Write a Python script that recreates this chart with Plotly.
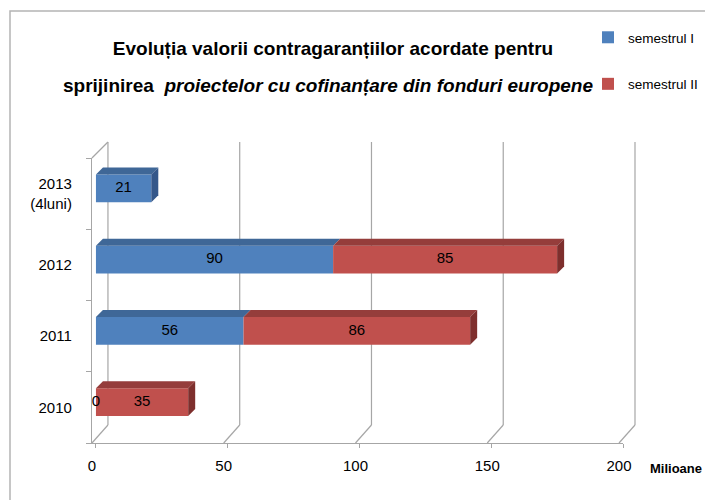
import plotly.graph_objects as go

# ---------------- data ----------------
categories = ["2010", "2011", "2012", "2013<br>(4luni)"]
sem1 = [0, 56, 90, 21]
sem2 = [35, 86, 85, None]
series_names = ["semestrul I", "semestrul II"]
x_ticks = [0, 50, 100, 150, 200]

# ---------------- style ----------------
FONT = "Liberation Sans, Arial, sans-serif"
W, H = 705, 500
ML, MR, MT, MB = 92, 82, 158, 57
XMIN, XMAX = -1.5, 200
YMIN, YMAX = -0.5, 3.5
PW, PH = W - ML - MR, H - MT - MB
PXU_X = PW / (XMAX - XMIN)
PXU_Y = PH / (YMAX - YMIN)
DEPTH = 7                      # px depth of bar 3D faces
DX, DY = DEPTH / PXU_X, DEPTH / PXU_Y
BAR_W = 0.39
BAR_OFF = 0.075
FRONT_SHIFT, BACK_SHIFT, BACK_UP = -4, 12, 18
GRID = "#a6a6a6"

front = {"sem1": "#4F81BD", "sem2": "#C0504D"}
topc = {"sem1": "#3F6797", "sem2": "#953D3B"}
sidec = {"sem1": "#34578A", "sem2": "#7E2F2D"}

ypos = [i + BAR_OFF for i in range(len(categories))]

fig = go.Figure()

bases1 = [0] * len(sem1)
bases2 = [a for a in sem1]
groups = [("sem1", sem1, bases1, series_names[0]), ("sem2", sem2, bases2, series_names[1])]

for key, vals, bases, name in groups:
    fig.add_trace(go.Bar(
        y=ypos, x=[v if v is not None else 0 for v in vals], base=bases,
        orientation="h", width=BAR_W, name=name, legendgroup=key,
        marker=dict(color=front[key], line=dict(width=0)),
        hoverinfo="skip"))

# 3D faces (top + right side) built from the data values
for idx, (key, vals, bases, name) in enumerate(groups):
    for i, (y, v, b) in enumerate(zip(ypos, vals, bases)):
        if v is None:
            continue
        a, e = b, b + v
        h = BAR_W / 2
        if v > 0:
            fig.add_trace(go.Scatter(
                x=[a, a + DX, e + DX, e, a], y=[y + h, y + h + DY, y + h + DY, y + h, y + h],
                fill="toself", fillcolor=topc[key], mode="lines", line=dict(width=0),
                showlegend=False, hoverinfo="skip"))
        nxt = groups[idx + 1][1][i] if idx + 1 < len(groups) else None
        if (nxt is None or nxt == 0) and v > 0:
            fig.add_trace(go.Scatter(
                x=[e, e + DX, e + DX, e, e], y=[y - h, y - h + DY, y + h + DY, y + h, y - h],
                fill="toself", fillcolor=sidec[key], mode="lines", line=dict(width=0),
                showlegend=False, hoverinfo="skip"))

# data labels
lx, ly, lt = [], [], []
for key, vals, bases, name in groups:
    for y, v, b in zip(ypos, vals, bases):
        if v is None:
            continue
        lx.append(b + v / 2)
        ly.append(y)
        lt.append(str(v))
fig.add_trace(go.Scatter(x=lx, y=ly, text=lt, mode="text", textposition="middle center",
                         textfont=dict(family=FONT, size=15, color="black"),
                         showlegend=False, hoverinfo="skip"))

def fx(v):
    return (v - XMIN) / (XMAX - XMIN)

shapes = []
for v in x_ticks:
    shapes.append(dict(type="line", xref="paper", yref="paper", xsizemode="pixel", ysizemode="pixel",
                       xanchor=fx(v), yanchor=0, x0=FRONT_SHIFT, x1=BACK_SHIFT, y0=0, y1=BACK_UP,
                       line=dict(color=GRID, width=1.2), layer="below"))
    shapes.append(dict(type="line", xref="paper", yref="paper", xsizemode="pixel", ysizemode="pixel",
                       xanchor=fx(v), yanchor=0, x0=BACK_SHIFT, x1=BACK_SHIFT, y0=BACK_UP, y1=PH + 16,
                       line=dict(color=GRID, width=1.2), layer="below"))
shapes.append(dict(type="line", xref="paper", yref="paper", xsizemode="pixel", ysizemode="pixel",
                   xanchor=fx(x_ticks[0]), yanchor=1, x0=FRONT_SHIFT, x1=BACK_SHIFT, y0=0, y1=16,
                   line=dict(color=GRID, width=1.2), layer="below"))
# chart frame (left/top edges visible, right/bottom run off the image)
shapes.append(dict(type="rect", xref="paper", yref="paper", xsizemode="pixel", ysizemode="pixel",
                   xanchor=0, yanchor=0, x0=10 - ML, x1=W - ML + 20, y0=-(MB + 20), y1=PH + MT - 11,
                   line=dict(color="#b4b4b4", width=1.5), layer="below"))

fig.update_layout(
    width=W, height=H,
    margin=dict(l=ML, r=MR, t=MT, b=MB, pad=0, autoexpand=False),
    paper_bgcolor="white", plot_bgcolor="rgba(0,0,0,0)",
    barmode="overlay",
    font=dict(family=FONT, size=15, color="black"),
    title=dict(text="<b>Evoluția valorii contragaranțiilor acordate pentru</b>",
               x=333 / W, xanchor="center", xref="container",
               y=1 - 42 / H, yanchor="top", yref="container",
               font=dict(family=FONT, size=19, color="black")),
    showlegend=True,
    legend=dict(x=(588 - ML) / PW, y=(H - MB - 22) / PH, xanchor="left", yanchor="top",
                tracegroupgap=26, traceorder="grouped",
                font=dict(family=FONT, size=13.5), bgcolor="rgba(0,0,0,0)"),
    shapes=shapes,
    xaxis=dict(range=[XMIN, XMAX], tickvals=x_ticks, ticks="outside", ticklen=4, tickcolor=GRID,
               showline=True, linecolor=GRID, linewidth=1.2, showgrid=False, zeroline=False,
               ticklabelshift=FRONT_SHIFT, ticklabelstandoff=5, tickfont=dict(size=15),
               fixedrange=True, automargin=False),
    yaxis=dict(range=[YMIN, YMAX], tickvals=list(range(len(categories))), ticktext=categories,
               ticks="", showline=True, linecolor=GRID, linewidth=1.2, showgrid=False, zeroline=False,
               ticklabelstandoff=16, tickfont=dict(size=15), fixedrange=True, automargin=False,
               minor=dict(tickvals=[i - 0.5 for i in range(len(categories) + 1)], ticks="outside",
                          ticklen=5, tickcolor=GRID, showgrid=False)),
    annotations=[
        dict(text="<b>sprijinirea\u00a0 <i>proiectelor cu cofinanțare din fonduri europene</i></b>",
             xref="paper", yref="paper", x=(328 - ML) / PW, y=(H - MB - 85) / PH,
             xanchor="center", yanchor="middle", showarrow=False,
             font=dict(family=FONT, size=19, color="black")),
        dict(text="<b>Milioane</b>", xref="paper", yref="paper", x=(648 - ML) / PW, y=-25 / PH,
             xanchor="left", yanchor="middle", showarrow=False,
             font=dict(family=FONT, size=13, color="black")),
    ],
)

fig.write_html("out.html", config={"displayModeBar": False},
               post_script="document.body.style.margin='0';")
